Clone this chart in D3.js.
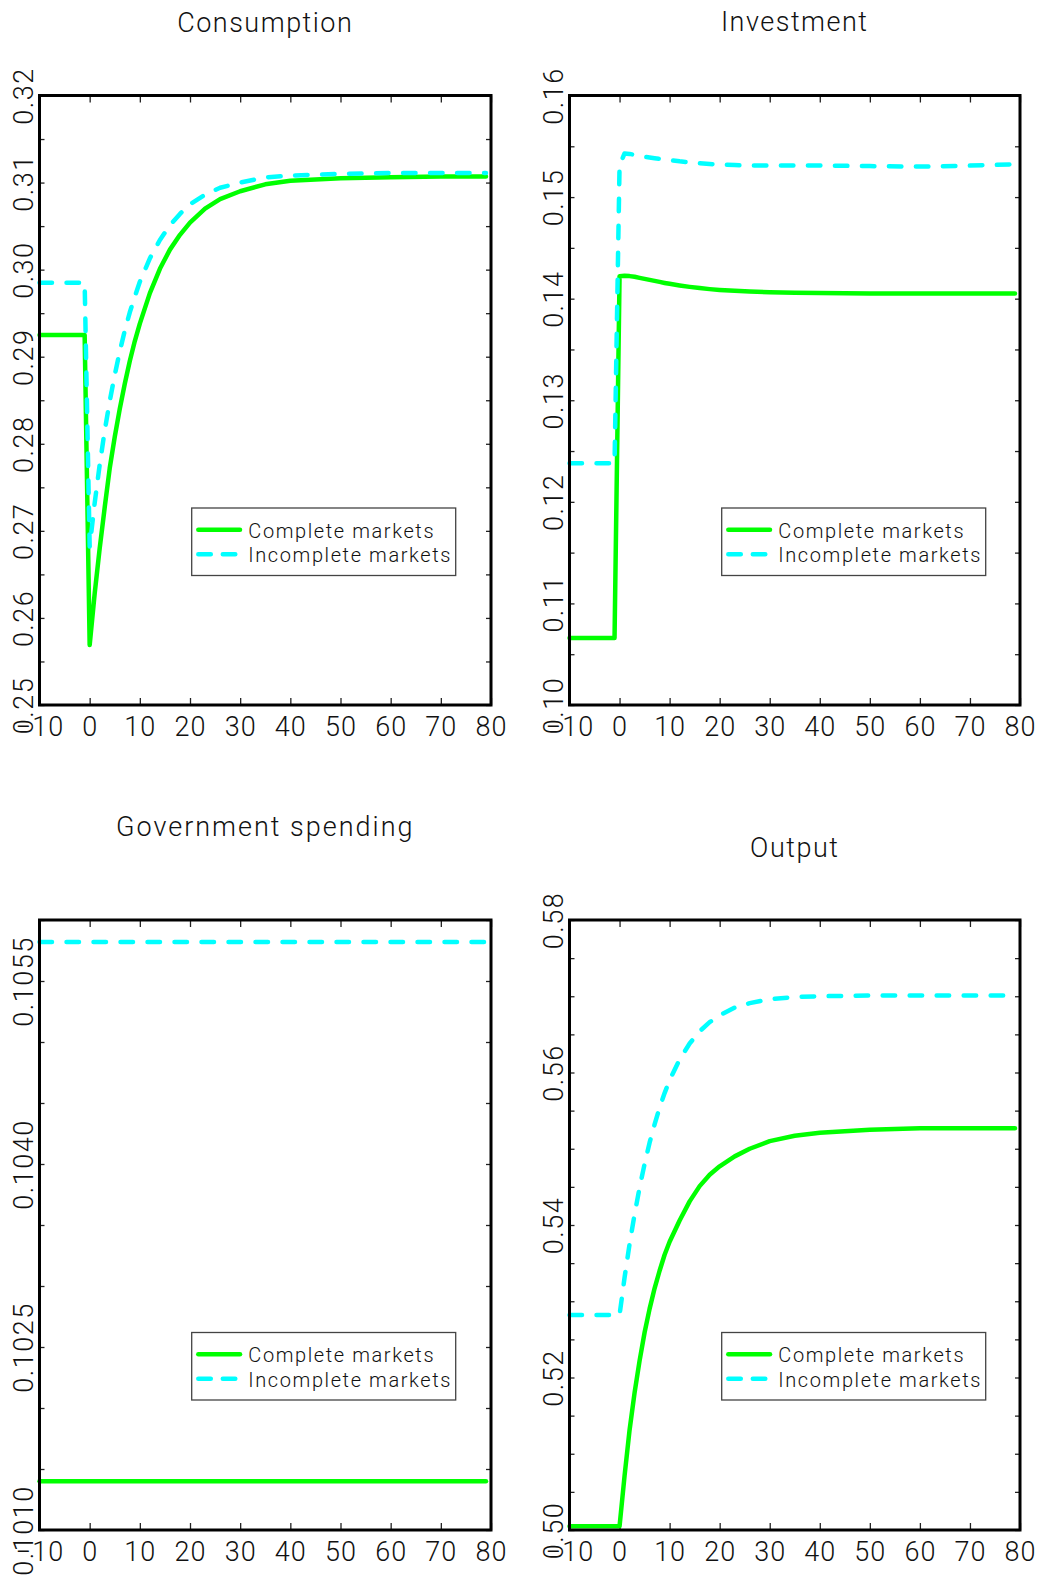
<!DOCTYPE html>
<html>
<head>
<meta charset="utf-8">
<script src="https://cdn.jsdelivr.net/npm/d3@7"></script>
<style>
  body { margin: 0; background: #fff; }
  svg { display: block; }
  text { font-family: Roboto, "DejaVu Sans", sans-serif; font-weight: 300; fill: #111; }
</style>
</head>
<body>
<div id="chart"></div>
<script>

// periods (quarters), -10 .. 79
const periods = [-10, -1, 0, 1, 2, 3, 4, 5, 6, 7, 8, 9, 10, 12, 14, 16, 18, 20, 23, 26, 30, 35, 40, 50, 60, 70, 79];

const consComplete = [0.2925, 0.2925, 0.2569, 0.2628, 0.2680, 0.2727, 0.2772, 0.2808, 0.2840, 0.2869, 0.2895, 0.2918, 0.2938,
  0.2973, 0.3001, 0.3023, 0.3040, 0.3054, 0.3070, 0.3081, 0.3090, 0.3098, 0.3102, 0.3105, 0.3106, 0.3107, 0.3107];
const consIncomplete = [0.2985, 0.2985, 0.2682, 0.2732, 0.2776, 0.2815, 0.2849, 0.2879, 0.2906, 0.2930, 0.2951, 0.2969, 0.2986,
  0.3013, 0.3034, 0.3051, 0.3064, 0.3075, 0.3086, 0.3094, 0.3100, 0.3106, 0.3108, 0.3110, 0.3111, 0.3111, 0.3111];

const invComplete = [0.10660, 0.10660, 0.14220, 0.14225, 0.14222, 0.14215, 0.14205, 0.14195, 0.14185, 0.14175, 0.14165, 0.14155, 0.14146,
  0.14130, 0.14116, 0.14104, 0.14094, 0.14086, 0.14077, 0.14070, 0.14063, 0.14058, 0.14055, 0.14052, 0.14051, 0.14050, 0.14050];
const invIncomplete = [0.12380, 0.12380, 0.15310, 0.15430, 0.15425, 0.15415, 0.15405, 0.15397, 0.15390, 0.15383, 0.15377, 0.15370, 0.15365,
  0.15352, 0.15342, 0.15333, 0.15326, 0.15320, 0.15315, 0.15312, 0.15310, 0.15310, 0.15310, 0.15305, 0.15300, 0.15310, 0.15322];

const govPeriods = [-10, 79];
const govComplete = [0.1014, 0.1014];
const govIncomplete = [0.10582, 0.10582];

const outComplete = [0.5005, 0.5005, 0.5005, 0.5071, 0.5131, 0.5180, 0.5222, 0.5259, 0.5290, 0.5317, 0.5340, 0.5361, 0.5378,
  0.5406, 0.5431, 0.5451, 0.5466, 0.5477, 0.5490, 0.5500, 0.5510, 0.5517, 0.5521, 0.5525, 0.5527, 0.5527, 0.5527];
const outIncomplete = [0.5282, 0.5282, 0.5282, 0.5331, 0.5375, 0.5414, 0.5449, 0.5480, 0.5508, 0.5532, 0.5554, 0.5573, 0.5590,
  0.5617, 0.5638, 0.5654, 0.5666, 0.5675, 0.5685, 0.5691, 0.5696, 0.5699, 0.5700, 0.5701, 0.5701, 0.5701, 0.5701];

const xTickLabels = [-10, 0, 10, 20, 30, 40, 50, 60, 70, 80];
const consYLabels = [0.25, 0.26, 0.27, 0.28, 0.29, 0.30, 0.31, 0.32];
const invYLabels = [0.10, 0.11, 0.12, 0.13, 0.14, 0.15, 0.16];
const govYLabels = [0.1010, 0.1025, 0.1040, 0.1055];
const outYLabels = [0.50, 0.52, 0.54, 0.56, 0.58];

const seriesNames = ["Complete markets", "Incomplete markets"];
const titles = ["Consumption", "Investment", "Government spending", "Output"];


const width = 1040, height = 1586;
const GREEN = "#00ff00", CYAN = "#00ffff";

const panels = [
  { title: titles[0], titleY: 32, box: [39.5, 95.5, 491, 705], domain: [0.25, 0.32], minor: 0.005, labels: consYLabels, fmt: ".2f",
    t: [periods, periods], v: [consComplete, consIncomplete] },
  { title: titles[1], titleY: 31, box: [569.5, 95.5, 1020, 705], domain: [0.10, 0.16], minor: 0.005, labels: invYLabels, fmt: ".2f",
    t: [periods, periods], v: [invComplete, invIncomplete] },
  { title: titles[2], titleY: 836, box: [39.5, 920, 491, 1530], domain: [0.1010, 0.1060], minor: 0.0005, labels: govYLabels, fmt: ".4f",
    t: [govPeriods, govPeriods], v: [govComplete, govIncomplete] },
  { title: titles[3], titleY: 857, box: [569.5, 920, 1020, 1530], domain: [0.50, 0.58], minor: 0.005, labels: outYLabels, fmt: ".2f",
    t: [periods, periods], v: [outComplete, outIncomplete] },
];

const svg = d3.select("#chart").append("svg")
  .attr("width", width)
  .attr("height", height);

svg.append("rect").attr("width", width).attr("height", height).attr("fill", "#fff");

const lineStyles = [
  { color: GREEN, dash: null },
  { color: CYAN, dash: "12.5,14.5" },
];

panels.forEach(drawPanel);


function drawPanel(p) {
  const [x0, y0, x1, y1] = p.box;
  const x = d3.scaleLinear().domain([-10, 80]).range([x0, x1]);
  const y = d3.scaleLinear().domain(p.domain).range([y1, y0]);
  const g = svg.append("g");

  // title
  g.append("text")
    .attr("x", (x0 + x1) / 2)
    .attr("y", p.titleY)
    .attr("text-anchor", "middle")
    .attr("font-size", 27)
    .attr("letter-spacing", p.title.length > 12 ? 2 : 1.5)
    .text(p.title);

  // minor ticks, all four sides, pointing inwards
  const n = Math.round((p.domain[1] - p.domain[0]) / p.minor);
  const minorTicks = d3.range(n + 1).map((i) => p.domain[0] + i * p.minor);

  const tickAxes = [
    [d3.axisRight(y).tickValues(minorTicks).tickSize(5), `translate(${x0},0)`],
    [d3.axisLeft(y).tickValues(minorTicks).tickSize(5), `translate(${x1},0)`],
    [d3.axisBottom(x).tickValues(xTickLabels).tickSize(7), `translate(0,${y0})`],
    [d3.axisTop(x).tickValues(xTickLabels).tickSize(7), `translate(0,${y1})`],
  ];
  tickAxes.forEach(([axis, tr]) => {
    const a = g.append("g").attr("transform", tr).call(axis.tickFormat(""));
    a.select(".domain").remove();
    a.selectAll("line").attr("stroke", "#222").attr("stroke-width", 1.3);
  });

  // x tick labels
  const xa = g.append("g")
    .attr("transform", `translate(0,${y1})`)
    .call(d3.axisBottom(x).tickValues(xTickLabels).tickSize(0).tickPadding(0)
      .tickFormat((d) => (d < 0 ? "\u2212" + Math.abs(d) : String(d))));
  xa.select(".domain").remove();
  xa.selectAll("text")
    .attr("y", 31)
    .attr("dy", 0)
    .attr("font-size", 27)
    .attr("letter-spacing", 1)
    .attr("fill", "#111");

  // y tick labels, rotated
  const ya = g.append("g")
    .attr("transform", `translate(${x0},0)`)
    .call(d3.axisLeft(y).tickValues(p.labels).tickSize(0).tickFormat(d3.format(p.fmt)));
  ya.select(".domain").remove();
  ya.selectAll("text")
    .attr("x", 0)
    .attr("dy", 0)
    .attr("transform", "translate(-7,0) rotate(-90)")
    .attr("text-anchor", "middle")
    .attr("font-size", 27)
    .attr("letter-spacing", 1.5)
    .attr("fill", "#111");
  // let the css font apply instead of the axis defaults
  g.selectAll("g").attr("font-family", null).attr("font-size", null);

  // data lines
  const line = d3.line().x((d) => x(d[0])).y((d) => y(d[1]));
  p.v.forEach((vals, i) => {
    const pts = p.t[i].map((tt, j) => [tt, vals[j]]);
    g.append("path")
      .datum(pts)
      .attr("d", line)
      .attr("fill", "none")
      .attr("stroke", lineStyles[i].color)
      .attr("stroke-width", 4.5)
      .attr("stroke-linecap", "round")
      .attr("stroke-linejoin", "round")
      .attr("stroke-dasharray", lineStyles[i].dash);
  });

  // frame
  g.append("rect")
    .attr("x", x0).attr("y", y0)
    .attr("width", x1 - x0).attr("height", y1 - y0)
    .attr("fill", "none")
    .attr("stroke", "#000")
    .attr("stroke-width", 3);

  // legend
  const lg = g.append("g").attr("transform", `translate(${x0 + 152.2},${y0 + 412.5})`);
  lg.append("rect")
    .attr("width", 264).attr("height", 67.5)
    .attr("fill", "#fff")
    .attr("stroke", "#444")
    .attr("stroke-width", 1.3);
  const items = lg.selectAll(".item").data(seriesNames).enter().append("g")
    .attr("class", "item")
    .attr("transform", (d, i) => `translate(0,${21.7 + i * 24.5})`);
  items.append("line")
    .attr("x1", 6.6).attr("x2", 48.3)
    .attr("stroke", (d, i) => lineStyles[i].color)
    .attr("stroke-width", 4.5)
    .attr("stroke-linecap", "round")
    .attr("stroke-dasharray", (d, i) => (lineStyles[i].dash ? "12.5,12" : null));
  items.append("text")
    .attr("x", 56.6)
    .attr("y", 8)
    .attr("font-size", 20)
    .attr("letter-spacing", 1.6)
    .text((d) => d);
}
</script>
</body>
</html>
